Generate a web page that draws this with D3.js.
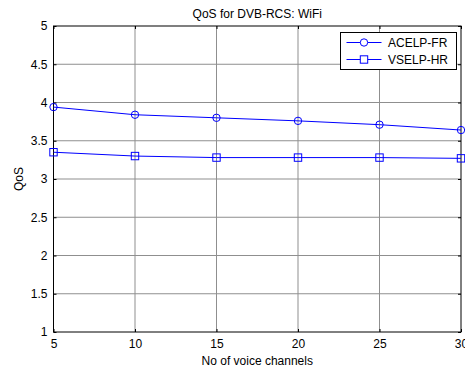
<!DOCTYPE html>
<html>
<head>
<meta charset="utf-8">
<script src="https://cdn.jsdelivr.net/npm/d3@7"></script>
<style>
  body { margin: 0; background: #fff; }
  svg { display: block; font-family: "Liberation Sans", Arial, sans-serif; }
</style>
</head>
<body>
<svg id="chart" width="465" height="368"></svg>
<script>
const channels = [5, 10, 15, 20, 25, 30];
const acelpFR = [3.94, 3.84, 3.80, 3.76, 3.71, 3.64];
const vselpHR = [3.35, 3.30, 3.28, 3.28, 3.28, 3.27];
const xTicks = [5, 10, 15, 20, 25, 30];
const yTicks = [1, 1.5, 2, 2.5, 3, 3.5, 4, 4.5, 5];

const margin = { top: 26, right: 4, bottom: 36, left: 53.5 };
const width = 465 - margin.left - margin.right;
const height = 368 - margin.top - margin.bottom;

const svg = d3.select('#chart');
const g = svg.append('g').attr('transform', `translate(${margin.left},${margin.top})`);

const x = d3.scaleLinear().domain([5, 30]).range([0, width]);
const y = d3.scaleLinear().domain([1, 5]).range([height, 0]);

// grid
g.append('g').selectAll('line').data(xTicks.slice(1, -1)).enter().append('line')
  .attr('x1', d => x(d)).attr('x2', d => x(d)).attr('y1', 0).attr('y2', height)
  .attr('stroke', '#8f8f8f').attr('stroke-width', 1);
g.append('g').selectAll('line').data(yTicks.slice(1, -1)).enter().append('line')
  .attr('y1', d => y(d)).attr('y2', d => y(d)).attr('x1', 0).attr('x2', width)
  .attr('stroke', '#8f8f8f').attr('stroke-width', 1);

// axes with inward ticks
const fmt = d => String(d);
const styleAxis = sel => {
  sel.select('.domain').remove();
  sel.selectAll('.tick line').attr('stroke', '#000');
  sel.selectAll('.tick text').attr('font-size', '12px').attr('fill', '#000')
    .attr('font-family', '"Liberation Sans", Arial, sans-serif');
};
g.append('g').attr('transform', `translate(0,${height})`)
  .call(d3.axisBottom(x).tickValues(xTicks).tickFormat(fmt).tickSizeInner(-3).tickPadding(7))
  .call(styleAxis);
g.append('g')
  .call(d3.axisTop(x).tickValues(xTicks).tickFormat('').tickSizeInner(-3))
  .call(styleAxis);
g.append('g')
  .call(d3.axisLeft(y).tickValues(yTicks).tickFormat(fmt).tickSizeInner(-3).tickPadding(6))
  .call(styleAxis);
g.append('g').attr('transform', `translate(${width},0)`)
  .call(d3.axisRight(y).tickValues(yTicks).tickFormat('').tickSizeInner(-3))
  .call(styleAxis);

g.append('rect').attr('width', width).attr('height', height)
  .attr('fill', 'none').attr('stroke', '#000').attr('stroke-width', 1);

// series
const line = d3.line().x(d => x(d[0])).y(d => y(d[1]));
const drawSeries = (vals, marker) => {
  const pts = channels.map((c, i) => [c, vals[i]]);
  g.append('path').datum(pts).attr('d', line)
    .attr('fill', 'none').attr('stroke', '#0000ff').attr('stroke-width', 1);
  if (marker === 'circle') {
    g.selectAll(null).data(pts).enter().append('circle')
      .attr('cx', d => x(d[0])).attr('cy', d => y(d[1])).attr('r', 3.7)
      .attr('fill', 'none').attr('stroke', '#0000ff').attr('stroke-width', 1);
  } else {
    g.selectAll(null).data(pts).enter().append('rect')
      .attr('x', d => x(d[0]) - 3.7).attr('y', d => y(d[1]) - 3.7)
      .attr('width', 7.4).attr('height', 7.4)
      .attr('fill', 'none').attr('stroke', '#0000ff').attr('stroke-width', 1);
  }
};
drawSeries(acelpFR, 'circle');
drawSeries(vselpHR, 'square');

// title and labels
svg.append('text').attr('x', margin.left + width / 2).attr('y', 18)
  .attr('text-anchor', 'middle').attr('font-size', '12px').text('QoS for DVB-RCS: WiFi');
svg.append('text').attr('x', margin.left + width / 2).attr('y', 365)
  .attr('text-anchor', 'middle').attr('font-size', '12px').text('No of voice channels');
svg.append('text').attr('transform', `translate(23,${margin.top + height / 2}) rotate(-90)`)
  .attr('text-anchor', 'middle').attr('font-size', '12px').text('QoS');

// legend
const legend = svg.append('g').attr('transform', 'translate(340.5,32.5)');
legend.append('rect').attr('width', 116).attr('height', 37)
  .attr('fill', '#fff').attr('stroke', '#000').attr('stroke-width', 1);
const items = [['ACELP-FR', 'circle'], ['VSELP-HR', 'square']];
items.forEach(([name, m], i) => {
  const yy = 10 + i * 17;
  legend.append('line').attr('x1', 6).attr('x2', 41).attr('y1', yy).attr('y2', yy)
    .attr('stroke', '#0000ff').attr('stroke-width', 1);
  if (m === 'circle') {
    legend.append('circle').attr('cx', 23.5).attr('cy', yy).attr('r', 3.7)
      .attr('fill', '#fff').attr('stroke', '#0000ff');
  } else {
    legend.append('rect').attr('x', 19.8).attr('y', yy - 3.7).attr('width', 7.4).attr('height', 7.4)
      .attr('fill', '#fff').attr('stroke', '#0000ff');
  }
  legend.append('text').attr('x', 47.5).attr('y', yy + 4.5).attr('font-size', '12px').text(name);
});
</script>
</body>
</html>
